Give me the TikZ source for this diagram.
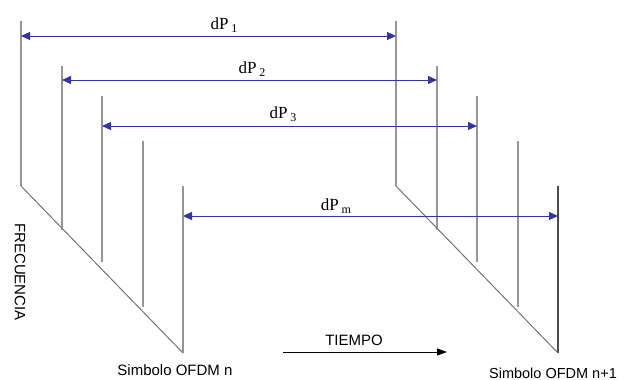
\documentclass[tikz,border=0pt]{standalone}
\usepackage{fontspec}
\setmainfont{Liberation Serif}
\setsansfont{Liberation Sans}
\usetikzlibrary{arrows.meta,positioning}
\definecolor{dpazul}{RGB}{51,51,170}
\definecolor{lgris}{RGB}{150,150,150}

\begin{document}
\begin{tikzpicture}[x=1pt,y=-1pt,
linea/.style={draw=lgris,line width=1.2pt},
diag/.style={draw=gray!90!black,line width=1pt},
dpflecha/.style={draw=dpazul,line width=1pt,
  {Triangle[length=9pt,width=8pt]}-{Triangle[length=9pt,width=8pt]}},
dplabel/.style={font=\fontsize{17}{19}\selectfont,inner sep=0pt},
txt/.style={font=\sffamily\fontsize{15}{17}\selectfont,inner sep=0pt}]
\useasboundingbox (0,0) rectangle (625,380);
% simbolo n
\coordinate (n1a) at (21,21);  \coordinate (n1b) at (21,186);
\coordinate (n2a) at (62,66);  \coordinate (n2b) at (62,230);
\coordinate (n3a) at (102,96); \coordinate (n3b) at (102,262);
\coordinate (n4a) at (143,141);\coordinate (n4b) at (143,307);
\coordinate (n5a) at (183,186);\coordinate (n5b) at (183,353);
% simbolo n+1
\coordinate (m1a) at (396,21);  \coordinate (m1b) at (396,186);
\coordinate (m2a) at (437,66);  \coordinate (m2b) at (437,230);
\coordinate (m3a) at (477,96);  \coordinate (m3b) at (477,262);
\coordinate (m4a) at (518,141); \coordinate (m4b) at (518,307);
\coordinate (m5a) at (558,186); \coordinate (m5b) at (558,353);
\draw[linea] (n1a)--(n1b);
\draw[linea] (n2a)--(n2b);
\draw[linea] (n3a)--(n3b);
\draw[linea] (n4a)--(n4b);
\draw[linea] (n5a)--(n5b);
\draw[diag] (n1b)--(n5b);
\draw[linea] (m1a)--(m1b);
\draw[linea] (m2a)--(m2b);
\draw[linea] (m3a)--(m3b);
\draw[linea] (m4a)--(m4b);
\draw[linea,draw=gray!60!black] (m5a)--(m5b);
\draw[diag] (m1b)--(m5b);
% distancias
\coordinate (p1i) at (21,36);  \coordinate (p1f) at (396,36);
\coordinate (p2i) at (62,80);  \coordinate (p2f) at (437,80);
\coordinate (p3i) at (102,126);\coordinate (p3f) at (477,126);
\coordinate (pmi) at (183,216);\coordinate (pmf) at (558,216);
\draw[dpflecha] (p1i)--(p1f);
\draw[dpflecha] (p2i)--(p2f);
\draw[dpflecha] (p3i)--(p3f);
\draw[dpflecha] (pmi)--(pmf);
\node[dplabel] (dp1) at (224,25) {dP\,\raisebox{-3pt}{\fontsize{12}{12}\selectfont 1}};
\node[dplabel] (dp2) at (252,69) {dP\,\raisebox{-3pt}{\fontsize{12}{12}\selectfont 2}};
\node[dplabel] (dp3) at (283,114) {dP\,\raisebox{-3pt}{\fontsize{12}{12}\selectfont 3}};
\node[dplabel] (dpm) at (336,206) {dP\,\raisebox{-3pt}{\fontsize{12}{12}\selectfont m}};
% ejes
\node[txt,rotate=-90] (frec) at (20,272) {FRECUENCIA};
\node[txt] (simn) at (175,370) {Simbolo OFDM n};
\node[txt,font=\sffamily\fontsize{14.5}{17}\selectfont] (simn1) at (553,373) {Simbolo OFDM n+1};
\node[txt] (tiempo) at (354,340) {TIEMPO};
\coordinate (ti) at (283,352);
\coordinate (tf) at (447,352);
\draw[line width=1pt,-{Triangle[length=10pt,width=7pt]}] (ti)--(tf);
\end{tikzpicture}
\end{document}
